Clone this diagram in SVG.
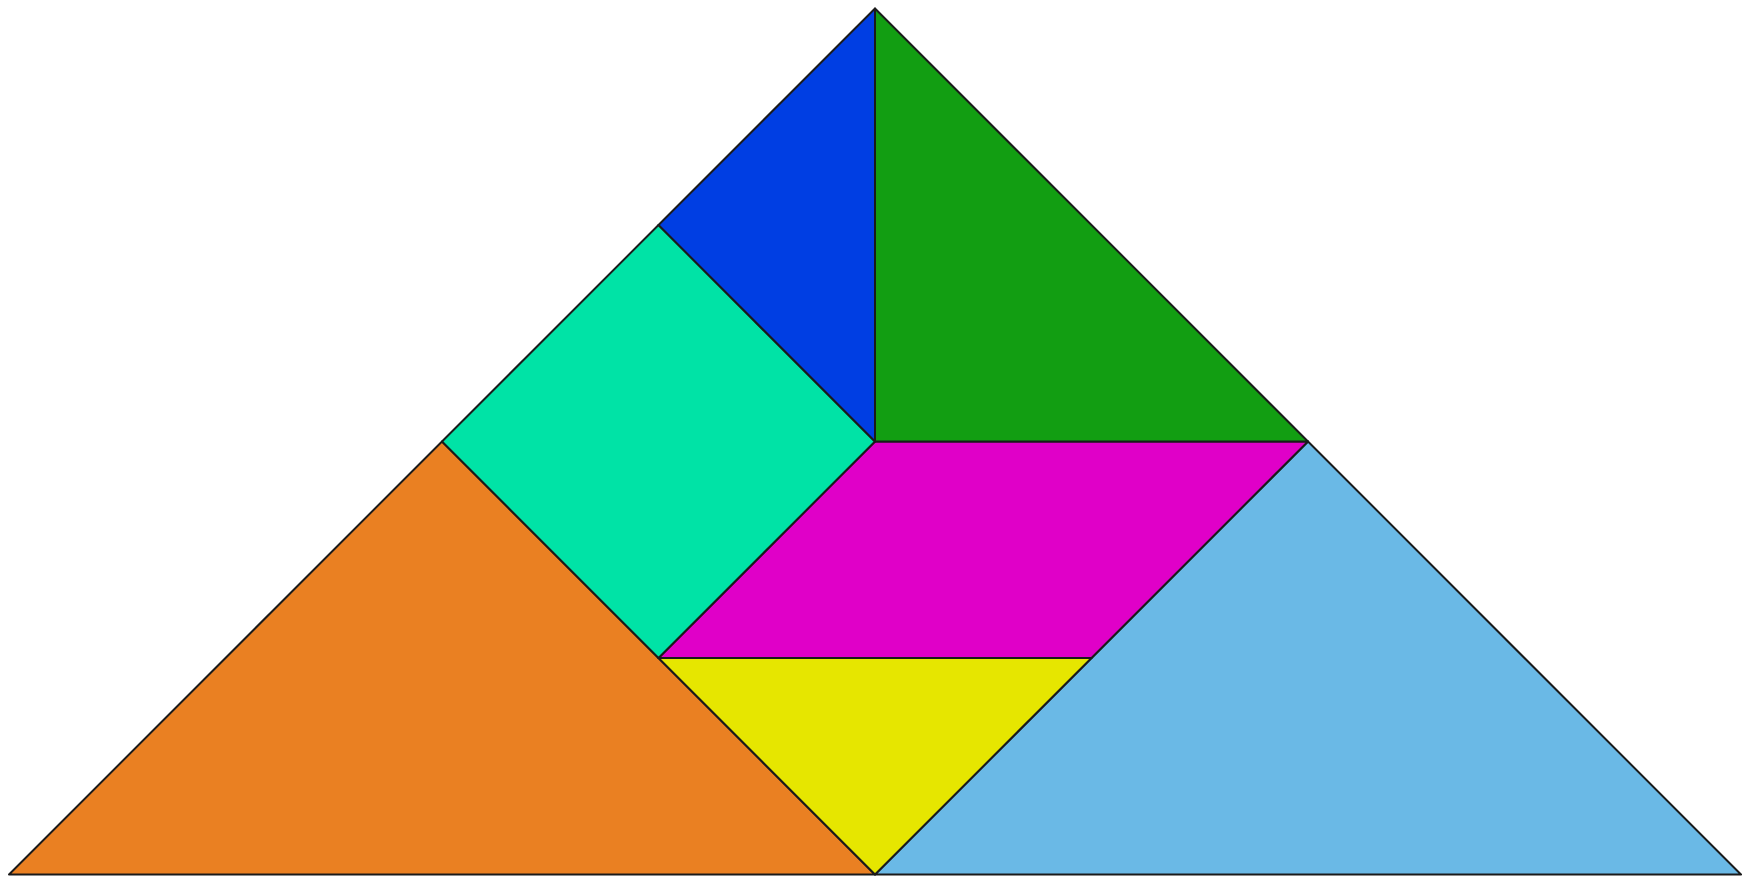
<svg xmlns="http://www.w3.org/2000/svg" width="1755" height="880" viewBox="0 0 1755 880">
<style>
.p{stroke:#1a1a1a;stroke-width:2;stroke-linejoin:round}
</style>
<rect width="1755" height="880" fill="#ffffff"/>
<g id="orange"><polygon class="p" fill="#ea8022" points="442,441.5 875,874.5 9,874.5"/></g>
<g id="lightblue"><polygon class="p" fill="#6ab9e6" points="1308,441.5 1741,874.5 875,874.5"/></g>
<g id="yellow"><polygon class="p" fill="#e6e600" points="658.5,658 1091.5,658 875,874.5"/></g>
<g id="magenta"><polygon class="p" fill="#e000c8" points="875,441.5 1308,441.5 1091.5,658 658.5,658"/></g>
<g id="teal"><polygon class="p" fill="#00e3a6" points="658.5,225 875,441.5 658.5,658 442,441.5"/></g>
<g id="blue"><polygon class="p" fill="#003ee3" points="875,8.5 875,441.5 658.5,225"/></g>
<g id="green"><polygon class="p" fill="#129e12" points="875,8.5 1308,441.5 875,441.5"/></g>
</svg>
